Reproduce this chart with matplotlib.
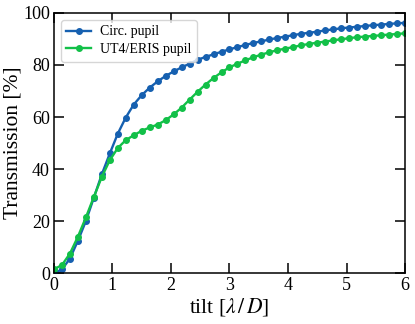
import numpy as np
import matplotlib
matplotlib.use("Agg")
import matplotlib.pyplot as plt

plt.rcParams['font.family'] = ['Liberation Serif', 'DejaVu Serif']
plt.rcParams['mathtext.fontset'] = 'stix'

tilt = np.linspace(0, 6, 45)
circ = [0, 1.4, 5.6, 12.4, 20, 29, 38, 46, 53.6, 59.8, 64.8, 68.4, 71.3, 73.7, 75.8,
        77.5, 79.1, 80.5, 82, 83.1, 84.1, 85.1, 86, 86.9, 87.7, 88.5, 89.1, 89.8, 90.4,
        90.9, 91.5, 92, 92.4, 92.8, 93.3, 93.7, 94.1, 94.4, 94.7, 95, 95.3, 95.5, 95.8,
        96, 96.2]
eris = [1.5, 3.1, 7.5, 14, 21.4, 29.3, 37, 43.4, 48.1, 51.1, 53, 54.7, 56, 57.1, 58.8,
        61, 63.6, 66.7, 69.7, 72.5, 75, 77.2, 79.1, 80.5, 81.8, 83, 84, 84.9, 85.7,
        86.3, 86.9, 87.6, 88.1, 88.6, 89, 89.5, 89.9, 90.3, 90.7, 90.9, 91.2, 91.4, 91.7,
        91.9, 92.2]
labels = ['Circ. pupil', 'UT4/ERIS pupil']
colors = ['#1660b0', '#12c048']

fig = plt.figure(figsize=(4.15, 3.24), dpi=100)
ax = fig.add_axes([0.130, 0.157, 0.846, 0.803])
ax.plot(tilt, circ, '-o', color=colors[0], lw=1.7, ms=4, label=labels[0])
ax.plot(tilt, eris, '-o', color=colors[1], lw=1.7, ms=4, label=labels[1])
ax.set_xlim(0, 6)
ax.set_ylim(0, 100)
ax.set_xticks(range(0, 7))
ax.set_yticks(range(0, 101, 20))
ax.tick_params(direction='in', top=True, right=True, length=7, width=1.1, labelsize=13, pad=3)
for s in ax.spines.values():
    s.set_linewidth(1.1)
ax.set_xlabel(r'tilt [$\lambda\,/\,D$]', fontsize=15.5, labelpad=1)
ax.set_ylabel('Transmission [%]', fontsize=15.5)
ax.yaxis.set_label_coords(-0.09, 0.5)
ax.legend(loc='upper left', fontsize=10, frameon=True, fancybox=True, borderpad=0.4,
          handlelength=1.8, handletextpad=0.6, labelspacing=0.35)
fig.savefig('out.png', dpi=100)
